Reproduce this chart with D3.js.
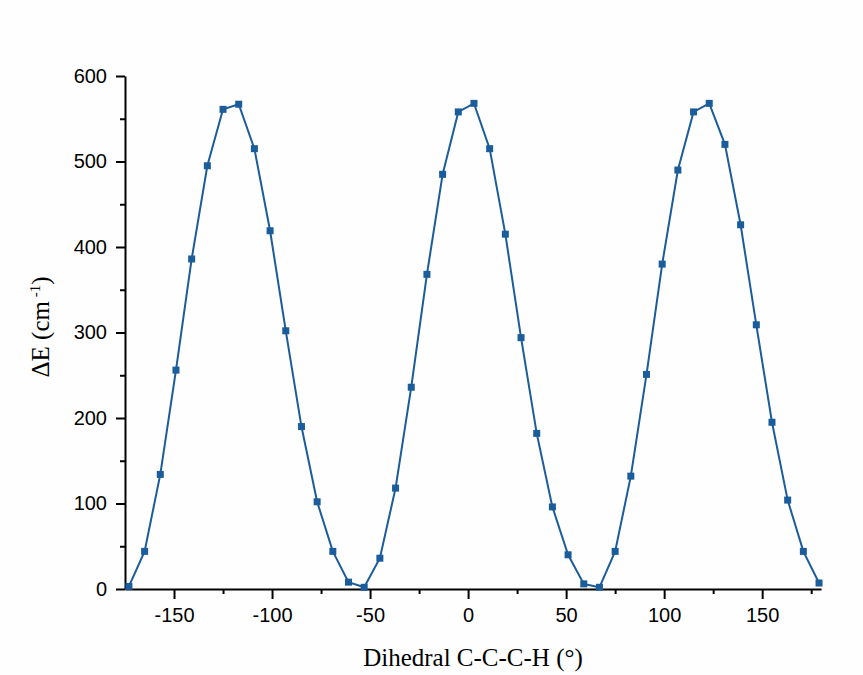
<!DOCTYPE html>
<html>
<head>
<meta charset="utf-8">
<script src="https://cdn.jsdelivr.net/npm/d3@7"></script>
<style>
  body { margin: 0; background: #fefefe; }
  #chart-div svg { display: block; }
  .tick text { font-family: "Liberation Sans", Arial, sans-serif; font-size: 20px; fill: #000; }
  .domain, .tick line { stroke: #000; stroke-width: 2px; }
  .title { font-family: "Liberation Serif", "Times New Roman", serif; font-size: 25px; fill: #000; }
</style>
</head>
<body>
<div id="chart-div"></div>
<script>
// dihedral angle (deg) and energy (cm-1)
const dihedral = [-173, -165, -157, -149, -141, -133, -125, -117, -109, -101,
  -93, -85, -77, -69, -61, -53, -45, -37, -29, -21,
  -13, -5, 3, 11, 19, 27, 35, 43, 51, 59,
  67, 75, 83, 91, 99, 107, 115, 123, 131, 139,
  147, 155, 163, 171, 179]
const deltaE = [3, 44, 134, 256, 386, 495, 561, 567, 515, 419,
  302, 190, 102, 44, 8, 2, 36, 118, 236, 368,
  485, 558, 568, 515, 415, 294, 182, 96, 40, 6,
  2, 44, 132, 251, 380, 490, 558, 568, 520, 426,
  309, 195, 104, 44, 7]

const xTicks = [-150, -100, -50, 0, 50, 100, 150]
const xMinor = [-125, -75, -25, 25, 75, 125, 175]
const yTicks = [0, 100, 200, 300, 400, 500, 600]
const yMinor = [50, 150, 250, 350, 450, 550]

const dms = {
  width: 863,
  height: 675,
  margin: { top: 76, right: 42, bottom: 86, left: 125 }
}
dms.contentWidth = dms.width - dms.margin.left - dms.margin.right
dms.contentHeight = dms.height - dms.margin.top - dms.margin.bottom

const lineColor = '#1b5c9a'
const plainNum = d => String(d)   // plain hyphen, as in the original

const box = d3.select('#chart-div').append('svg')
  .attr('width', dms.width)
  .attr('height', dms.height)

const content = box.append('g')
  .attr('transform', `translate(${dms.margin.left},${dms.margin.top})`)

const xScale = d3.scaleLinear()
  .domain([-175, 180])
  .range([0, dms.contentWidth])

const yScale = d3.scaleLinear()
  .domain([0, 600])
  .range([dms.contentHeight, 0])

// minor ticks first so the main axes sit on top
content.append('g')
  .attr('transform', `translate(0,${dms.contentHeight})`)
  .call(d3.axisBottom(xScale).tickValues(xMinor).tickSize(5).tickFormat(''))
  .call(g => g.select('.domain').remove())

content.append('g')
  .call(d3.axisLeft(yScale).tickValues(yMinor).tickSize(5).tickFormat(''))
  .call(g => g.select('.domain').remove())

const xAxis = content.append('g')
  .attr('transform', `translate(0,${dms.contentHeight})`)
  .call(d3.axisBottom(xScale).tickValues(xTicks).tickFormat(plainNum)
    .tickSize(10).tickSizeOuter(0).tickPadding(9))

const yAxis = content.append('g')
  .call(d3.axisLeft(yScale).tickValues(yTicks).tickFormat(plainNum)
    .tickSize(9).tickSizeOuter(0).tickPadding(9))

const points = dihedral.map((d, i) => ({ x: d, y: deltaE[i] }))

const lineGen = d3.line()
  .x(d => xScale(d.x))
  .y(d => yScale(d.y))

content.append('path')
  .attr('d', lineGen(points))
  .attr('fill', 'none')
  .attr('stroke', lineColor)
  .attr('stroke-width', 2)

const size = 7
content.append('g')
  .selectAll('rect')
  .data(points)
  .join('rect')
  .attr('x', d => xScale(d.x) - size / 2)
  .attr('y', d => yScale(d.y) - size / 2)
  .attr('width', size)
  .attr('height', size)
  .attr('fill', lineColor)

// axis titles
box.append('text')
  .attr('class', 'title')
  .attr('x', dms.margin.left + xScale(2.5))
  .attr('y', 666)
  .attr('text-anchor', 'middle')
  .text('Dihedral C-C-C-H (°)')

const yTitle = box.append('text')
  .attr('class', 'title')
  .attr('text-anchor', 'middle')
  .attr('transform', 'translate(49,327) rotate(-90)')
yTitle.append('tspan').text('ΔE (cm')
yTitle.append('tspan').attr('font-size', '15px').attr('dy', '-9').text(' -1')
yTitle.append('tspan').attr('dy', '9').text(')')
</script>
</body>
</html>
